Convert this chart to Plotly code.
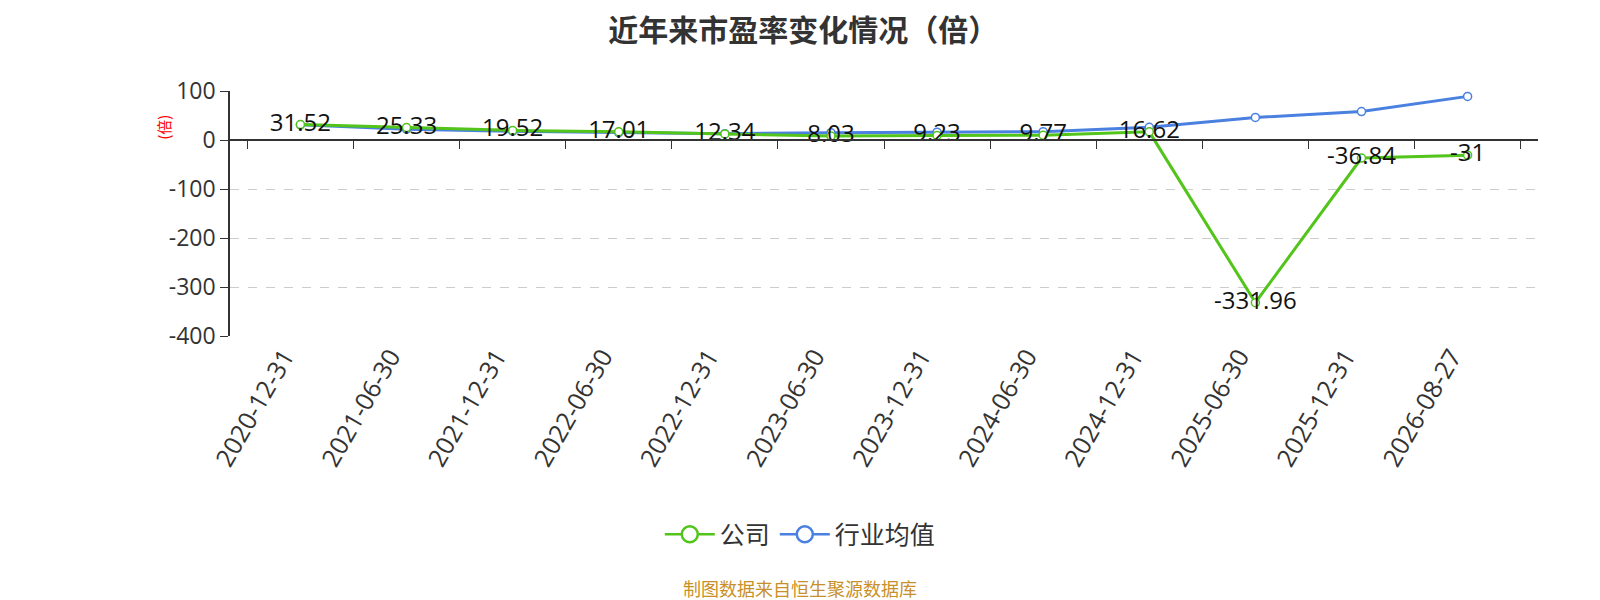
import plotly.graph_objects as go

dates = ["2020-12-31", "2021-06-30", "2021-12-31", "2022-06-30", "2022-12-31",
         "2023-06-30", "2023-12-31", "2024-06-30", "2024-12-31", "2025-06-30",
         "2025-12-31", "2026-08-27"]
company = [31.52, 25.33, 19.52, 17.01, 12.34, 8.03, 9.23, 9.77, 16.62, -331.96, -36.84, -31]
industry = [31, 22, 18, 15, 13, 15, 16, 17, 26, 46, 58, 89]
company_labels = ["31.52", "25.33", "19.52", "17.01", "12.34", "8.03", "9.23", "9.77",
                  "16.62", "-331.96", "-36.84", "-31"]
y_ticks = [100, 0, -100, -200, -300, -400]
y_tick_text = ["100", "0", "-100", "-200", "-300", "-400"]

font_family = "Open Sans, Noto Sans CJK SC, sans-serif"
cjk_family = "Noto Sans CJK SC, sans-serif"
green = "#52c41a"
blue = "#4a80e0"
y_min, y_max = -400, 100

fig = go.Figure()

fig.add_trace(go.Scatter(x=dates,
                         y=industry,
                         name="行业均值",
                         mode="lines+markers",
                         showlegend=False,
                         line=dict(color=blue, width=3),
                         marker=dict(size=8, color="white",
                                     line=dict(color=blue, width=1.5))))

fig.add_trace(go.Scatter(x=dates,
                         y=company,
                         name="公司",
                         mode="lines+markers+text",
                         showlegend=False,
                         text=company_labels,
                         textposition="middle center",
                         textfont=dict(size=24, color="#111111"),
                         line=dict(color=green, width=3),
                         marker=dict(size=8, color="white",
                                     line=dict(color=green, width=1.5))))

# legend entries with bigger symbols
for name, color in [("公司", green), ("行业均值", blue)]:
    fig.add_trace(go.Scatter(x=[None], y=[None], name=name, mode="lines+markers",
                             line=dict(color=color, width=2.5),
                             marker=dict(size=20, color="white",
                                         line=dict(color=color, width=2.5))))

fig.update_layout(
    width=1600, height=600,
    paper_bgcolor="white", plot_bgcolor="white",
    font=dict(family=font_family, size=20, color="#333333"),
    margin=dict(l=222, r=70, t=83, b=272),
    title=dict(text="<b>近年来市盈率变化情况（倍）</b>", x=0.497, xanchor="center",
               y=0.962, yanchor="middle",
               font=dict(family=cjk_family, size=30, color="#333333")),
    showlegend=True,
    legend=dict(orientation="h", x=0.436, xanchor="center",
                y=-0.81, yanchor="middle",
                font=dict(family=cjk_family, size=25, color="#333333"),
                itemwidth=50),
    annotations=[dict(text="制图数据来自恒生聚源数据库", xref="paper", yref="paper",
                      x=0.436, y=-1.03, xanchor="center", yanchor="middle",
                      showarrow=False,
                      font=dict(family=cjk_family, size=18, color="#c8902a")),
                 dict(text="(倍)", xref="paper", yref="paper", x=-0.051, y=0.851,
                      xanchor="center", yanchor="middle", textangle=-90,
                      showarrow=False,
                      font=dict(family=cjk_family, size=15, color="red"))],
)

fig.update_xaxes(type="category", tickangle=-60, showline=False, ticks="",
                 showgrid=False, ticklabelshift=-16,
                 tickfont=dict(size=25, color="#333333"))

fig.update_yaxes(range=[y_min, y_max], tickvals=y_ticks, ticktext=y_tick_text,
                 showline=True, linecolor="#333333",
                 linewidth=1.5, ticks="outside", ticklen=8, tickcolor="#333333",
                 showgrid=True, gridcolor="#cccccc", griddash="dash", gridwidth=1,
                 zeroline=False, tickfont=dict(size=23, color="#333333"))

# axis line with boundary ticks along y = 0
fig.update_layout(xaxis2=dict(overlaying="x", matches="x", type="category",
                              anchor="free", position=(0 - y_min) / (y_max - y_min),
                              side="bottom", showline=True, linecolor="#333333",
                              linewidth=1.5, ticks="outside", ticklen=8,
                              tickcolor="#333333", tickson="boundaries",
                              showticklabels=False, showgrid=False))
fig.add_trace(go.Scatter(x=dates, y=industry, xaxis="x2", mode="none",
                         showlegend=False, hoverinfo="skip"))

fig.write_html("out.html")
